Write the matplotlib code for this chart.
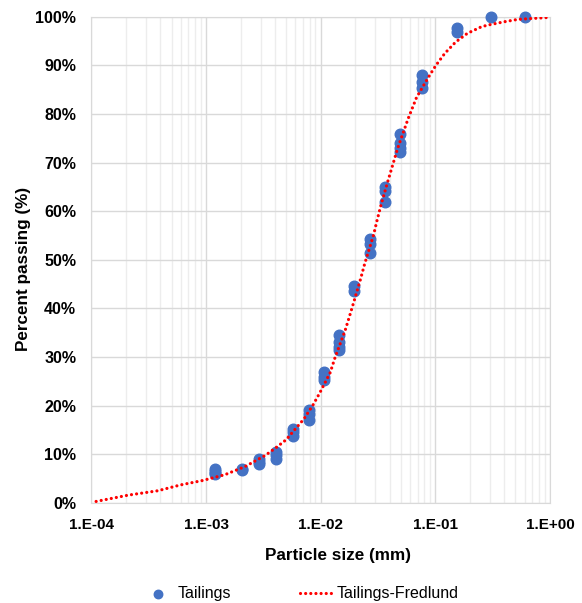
import numpy as np
import matplotlib
matplotlib.use("Agg")
import matplotlib.pyplot as plt
from matplotlib.ticker import FixedLocator, LogLocator, NullFormatter

plt.rcParams['font.family'] = ['Liberation Sans', 'DejaVu Sans']

# medidos (Tailings)
size_pts = [1.2e-3, 1.2e-3, 1.2e-3, 1.2e-3,
            2.06e-3, 2.06e-3,
            2.9e-3, 2.9e-3, 2.9e-3,
            4.07e-3, 4.07e-3, 4.07e-3,
            5.73e-3, 5.73e-3, 5.73e-3,
            7.9e-3, 7.9e-3, 7.9e-3,
            0.0107, 0.0107, 0.0107,
            0.0144, 0.0144, 0.0144, 0.0144,
            0.0195, 0.0195,
            0.0269, 0.0269, 0.0269,
            0.0364, 0.0364, 0.0364,
            0.0492, 0.0492, 0.0492, 0.0492,
            0.0766, 0.0766, 0.0766,
            0.1545, 0.1545,
            0.306, 0.607]
pass_pts = [7.0, 6.6, 6.2, 5.9,
            6.9, 6.7,
            9.0, 8.5, 8.0,
            10.4, 9.8, 9.0,
            15.3, 14.5, 13.8,
            19.2, 18.3, 17.0,
            27.0, 26.0, 25.2,
            34.6, 33.2, 32.0, 31.5,
            44.6, 43.6,
            54.2, 53.2, 51.5,
            65.0, 64.2, 62.0,
            76.0, 74.0, 73.0, 72.2,
            88.0, 86.5, 85.3,
            97.7, 96.8,
            100.0, 100.0]

# curva ajustada (Fredlund)
size_fit = [1.1e-4, 2.1e-4, 3.8e-4, 6e-4, 9.3e-4, 1.46e-3, 2.2e-3, 3.3e-3,
            4.2e-3, 5e-3, 7.1e-3, 8.5e-3, 9.8e-3, 0.0121, 0.0133, 0.0164,
            0.018, 0.0196, 0.0223, 0.0242, 0.0289, 0.031, 0.0335, 0.0381,
            0.047, 0.058, 0.0685, 0.0866, 0.101, 0.121, 0.15, 0.19, 0.254,
            0.3, 0.4, 0.53, 0.73, 1.0]
pass_fit = [0.3, 1.6, 2.5, 3.7, 4.6, 5.8, 7.5, 9.8,
            11.6, 13.0, 17.2, 20.0, 22.6, 26.8, 29.8, 35.6,
            38.7, 41.6, 46.1, 49.2, 55.1, 58.1, 61.2, 65.8,
            73.0, 79.1, 83.4, 87.5, 90.0, 92.5, 94.8, 96.6, 98.0,
            98.4, 99.0, 99.5, 99.7, 99.9]

x_ticks = [1e-4, 1e-3, 1e-2, 1e-1, 1e0]
x_labels = ['1.E-04', '1.E-03', '1.E-02', '1.E-01', '1.E+00']
y_ticks = np.arange(0, 101, 10)
y_labels = ['%d%%' % v for v in y_ticks]

fig = plt.figure(figsize=(5.82, 6.03), dpi=100)
ax = fig.add_axes([0.157, 0.166, 0.788, 0.806])

ax.scatter(size_pts, pass_pts, s=58, color='#4472C4', zorder=3,
           clip_on=False, label='Tailings')
ax.plot(size_fit, pass_fit, color='#FF0000', lw=2.3,
        linestyle=(0, (0.01, 1.6)), dash_capstyle='round', zorder=4,
        label='Tailings-Fredlund')

ax.set_xscale('log')
ax.set_xlim(1e-4, 1)
ax.set_ylim(0, 100)
ax.xaxis.set_major_locator(FixedLocator(x_ticks))
ax.set_xticklabels(x_labels)
ax.xaxis.set_minor_locator(LogLocator(base=10, subs=np.arange(2, 10)))
ax.xaxis.set_minor_formatter(NullFormatter())
ax.set_yticks(y_ticks)
ax.set_yticklabels(y_labels)

ax.grid(which='major', color='#d9d9d9', lw=1.0, zorder=0)
ax.grid(which='minor', axis='x', color='#ededed', lw=1.0, zorder=0)
ax.set_axisbelow(True)
for s in ax.spines.values():
    s.set_color('#d9d9d9')
ax.tick_params(which='both', length=0)
ax.tick_params(axis='x', labelsize=11, pad=11)
ax.tick_params(axis='y', labelsize=11.5, pad=11)
for lab in ax.get_xticklabels() + ax.get_yticklabels():
    lab.set_fontweight('bold')

ax.set_xlabel('Particle size (mm)', fontsize=12.3, fontweight='bold')
ax.set_ylabel('Percent passing (%)', fontsize=12.3, fontweight='bold')
ax.xaxis.set_label_coords(0.537, -0.092)
ax.yaxis.set_label_coords(-0.131, 0.481)

fig.legend(loc='center', bbox_to_anchor=(0.515, 0.015), ncol=2,
           frameon=False, fontsize=11.5, columnspacing=4.3, handlelength=2.1,
           handletextpad=0.2, markerscale=0.8)

fig.savefig('out.png', dpi=100)
